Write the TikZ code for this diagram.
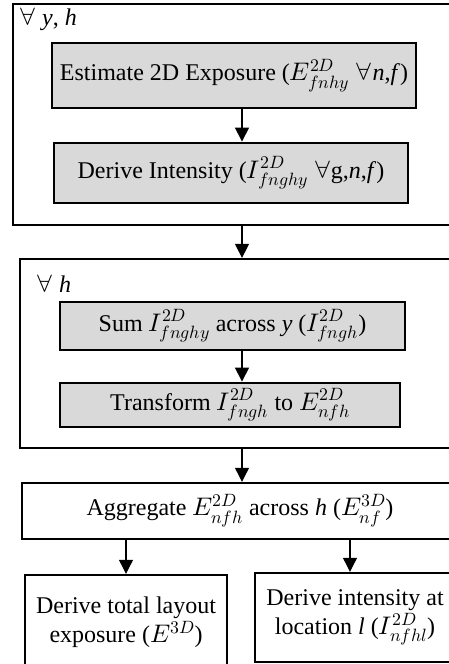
\documentclass[tikz,border=0pt]{standalone}
\usepackage{fontspec}
\usepackage{unicode-math}
\setmainfont{Liberation Serif}
\setmathfont{Latin Modern Math}[Scale=1.06]
\usetikzlibrary{arrows.meta}
\definecolor{boxgrey}{HTML}{D9D9D9}
\begin{document}
\begin{tikzpicture}[x=1pt,y=-1pt,
  font=\fontsize{24}{29}\selectfont,
  outerbox/.style={draw, line width=2.2pt, inner sep=0pt},
  greybox/.style={draw, line width=2.8pt, fill=boxgrey, inner sep=0pt, align=center},
  whitebox/.style={draw, line width=2.4pt, fill=white, inner sep=0pt, align=center},
  lbl/.style={anchor=west, inner sep=0pt},
  arr/.style={line width=1.1pt, -{Triangle[length=14pt,width=14pt]}}
]
\useasboundingbox (0,0) rectangle (448,664);
% outer loop boxes
\node[outerbox, minimum width=452pt, minimum height=221pt] (outer1) at (239,114.5) {};
\node[outerbox, minimum width=445pt, minimum height=189pt] (outer2) at (242.5,353.5) {};
\node[lbl] (l1) at (19,19) {$\forall$ \textit{y}, \textit{h}};
\node[lbl] (l2) at (36,284) {$\forall$ \textit{h}};
% inner steps
\node[greybox, minimum width=364pt, minimum height=65pt] (est) at (234,75.5)
  {Estimate 2D Exposure ($E^{2D}_{fnhy}$ $\forall$\textit{n},\textit{f})};
\node[greybox, minimum width=354pt, minimum height=60pt] (der) at (231,173)
  {Derive Intensity ($I^{2D}_{fnghy}$ $\forall$g,\textit{n},\textit{f})};
\node[greybox, minimum width=345pt, minimum height=48pt] (sum) at (232.5,326)
  {Sum $I^{2D}_{fnghy}$ across \textit{y} ($I^{2D}_{fngh}$)};
\node[greybox, minimum width=340pt, minimum height=44pt] (tra) at (230,405)
  {Transform $I^{2D}_{fngh}$ to $E^{2D}_{nfh}$};
\node[whitebox, minimum width=436pt, minimum height=56pt] (agg) at (240,511)
  {Aggregate $E^{2D}_{nfh}$ across \textit{h} ($E^{3D}_{nf}$)};
\node[whitebox, minimum width=202pt, minimum height=95pt] (tot) at (126,622.5)
  {Derive total layout\\exposure ($E^{3D}$)};
\node[whitebox, minimum width=200pt, minimum height=89pt] (loc) at (355,617.5)
  {Derive intensity at\\location \textit{l} ($I^{2D}_{nfhl}$)};
% connector columns
\coordinate (ax) at (242,0);
\coordinate (bx) at (126,0);
\coordinate (cx) at (350,0);
\draw[arr] (est.south -| ax) -- (der.north -| ax);
\draw[arr] (outer1.south -| ax) -- (outer2.north -| ax);
\draw[arr] (sum.south -| ax) -- (tra.north -| ax);
\draw[arr] (outer2.south -| ax) -- (agg.north -| ax);
\draw[arr] (agg.south -| bx) -- (tot.north -| bx);
\draw[arr] (agg.south -| cx) -- (loc.north -| cx);
\end{tikzpicture}
\end{document}
